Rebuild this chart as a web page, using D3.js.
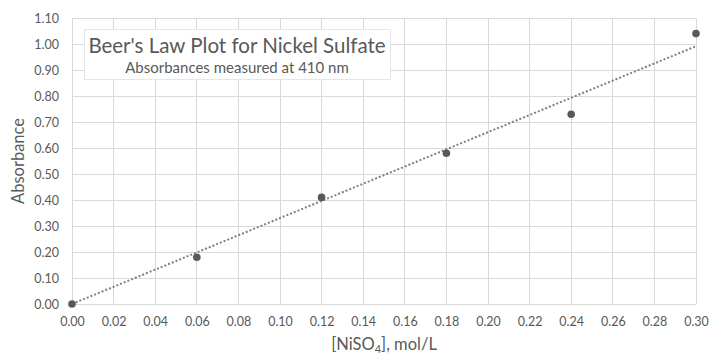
<!DOCTYPE html>
<html><head><meta charset="utf-8">
<script src="https://cdn.jsdelivr.net/npm/d3@7"></script>
<style>body{margin:0;background:#fff}svg{display:block}text{font-family:Lato,"Open Sans",sans-serif}</style>
</head><body>
<svg id="c" width="709" height="356"></svg>
<script>
const concentrations = [0.00, 0.06, 0.12, 0.18, 0.24, 0.30];
const absorbances = [0.00, 0.18, 0.41, 0.58, 0.73, 1.04];
const xTicks = [0,0.02,0.04,0.06,0.08,0.10,0.12,0.14,0.16,0.18,0.20,0.22,0.24,0.26,0.28,0.30];
const yTicks = [0,0.1,0.2,0.3,0.4,0.5,0.6,0.7,0.8,0.9,1.0,1.1];
const titleText = "Beer's Law Plot for Nickel Sulfate";
const subtitleText = "Absorbances measured at 410 nm";

const svg = d3.select("#c");
const L=72, R=696, T=18, B=304;
const x = d3.scaleLinear().domain([0,0.30]).range([L,R]);
const y = d3.scaleLinear().domain([0,1.10]).range([B,T]);
const grid="#d9d9d9", lab="#595959";

const g = svg.append("g");
g.selectAll(".gx").data(xTicks).join("line")
 .attr("x1",d=>x(d)).attr("x2",d=>x(d)).attr("y1",T).attr("y2",B)
 .attr("stroke",grid).attr("stroke-width",1).attr("shape-rendering","crispEdges");
g.selectAll(".gy").data(yTicks).join("line")
 .attr("y1",d=>y(d)).attr("y2",d=>y(d)).attr("x1",L).attr("x2",R)
 .attr("stroke",grid).attr("stroke-width",1).attr("shape-rendering","crispEdges");

const xAxis = svg.append("g").attr("transform",`translate(0,${B})`)
 .call(d3.axisBottom(x).tickValues(xTicks).tickFormat(d3.format(".2f")).tickSize(0).tickPadding(13));
const yAxis = svg.append("g").attr("transform",`translate(${L},0)`)
 .call(d3.axisLeft(y).tickValues(yTicks).tickFormat(d3.format(".2f")).tickSize(0).tickPadding(13));
[xAxis,yAxis].forEach(a=>{a.select(".domain").remove();
 a.selectAll("text").attr("fill",lab).style("font-size","12.5px").style("font-family","Lato,'Open Sans',sans-serif");});

const n=concentrations.length;
const mx=d3.mean(concentrations), my=d3.mean(absorbances);
let sxy=0,sxx=0;
for(let i=0;i<n;i++){sxy+=(concentrations[i]-mx)*(absorbances[i]-my);sxx+=(concentrations[i]-mx)**2;}
const slope=sxy/sxx, icpt=my-slope*mx;
svg.append("line").attr("x1",x(0)).attr("y1",y(Math.max(0,icpt))).attr("x2",x(0.30)).attr("y2",y(icpt+slope*0.30))
 .attr("stroke","#7f7f7f").attr("stroke-width",2).attr("stroke-dasharray","2,2");

svg.selectAll(".pt").data(concentrations).join("circle")
 .attr("cx",d=>x(d)).attr("cy",(d,i)=>y(absorbances[i])).attr("r",3.8).attr("fill","#595959");

svg.append("rect").attr("x",84.5).attr("y",29.5).attr("width",306).attr("height",50)
 .attr("fill","#fff").attr("stroke","#e6e6e6");
svg.append("text").attr("x",237).attr("y",53).attr("text-anchor","middle").attr("fill",lab)
 .style("font-size","20.5px").text(titleText);
svg.append("text").attr("x",237).attr("y",73).attr("text-anchor","middle").attr("fill",lab)
 .style("font-size","15px").text(subtitleText);

svg.append("text").attr("transform",`translate(24,${(T+B)/2}) rotate(-90)`).attr("text-anchor","middle")
 .attr("fill",lab).style("font-size","16.5px").text("Absorbance");
const xt = svg.append("text").attr("x",(L+R)/2).attr("y",350).attr("text-anchor","middle")
 .attr("fill",lab).style("font-size","16.5px");
xt.append("tspan").text("[NiSO");
xt.append("tspan").attr("baseline-shift","-25%").style("font-size","11px").text("4");
xt.append("tspan").text("], mol/L");
</script>
</body></html>
